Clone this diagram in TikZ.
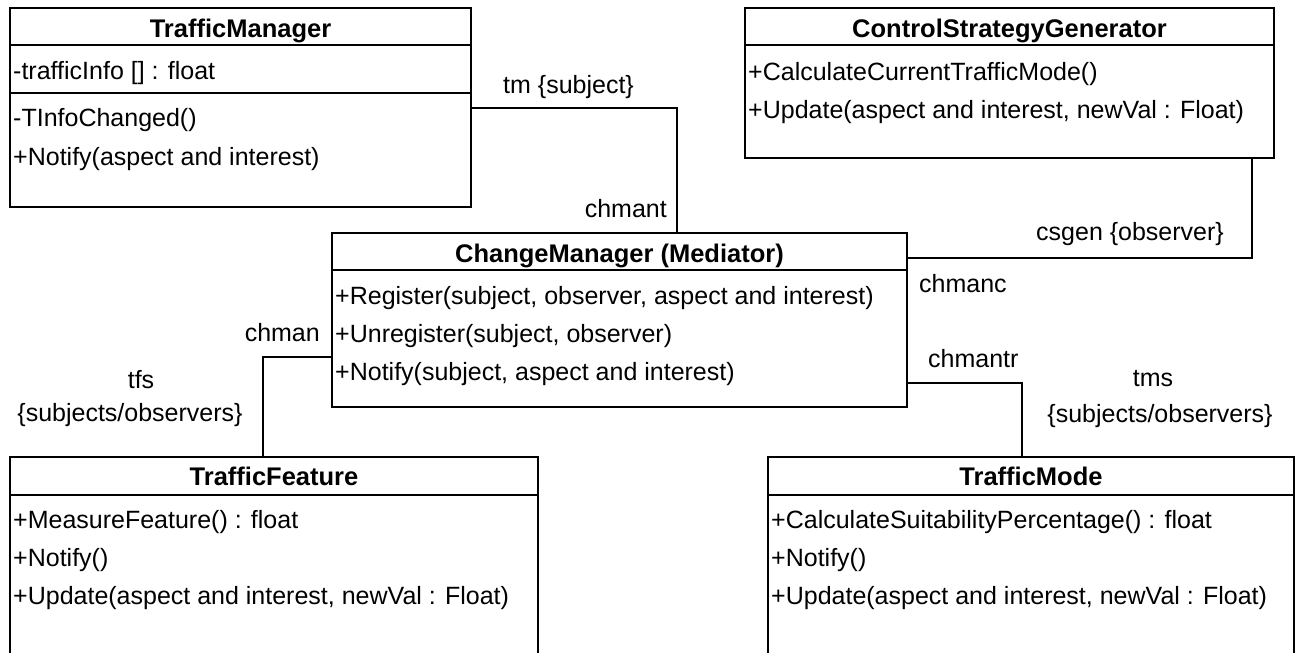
\documentclass[tikz,border=0pt]{standalone}
\usepackage{fontspec}
\setmainfont{Liberation Sans}
\usepackage{tikz}
\tikzset{>=latex}
\tikzstyle{umlbox}=[draw=black,line width=1.8pt,rectangle,outer sep=0pt,inner sep=0pt,anchor=north west]
\tikzstyle{classname}=[inner sep=0pt,anchor=base,font=\fontsize{25.5}{30}\selectfont\bfseries]
\tikzstyle{member}=[inner sep=0pt,anchor=base west,font=\fontsize{25}{30}\selectfont]
\tikzstyle{role}=[inner sep=0pt,font=\fontsize{25}{30}\selectfont]
\tikzstyle{link}=[line width=1.8pt]

\begin{document}
\begin{tikzpicture}[x=1pt,y=-1pt]
		\useasboundingbox (0,0) rectangle (1296,653);
		\clip (0,0) rectangle (1296,653);
		
		\node[umlbox, minimum width=461pt, minimum height=199pt] (tm) at (10,8) {};
		\draw[link] (tm.west |- 0,45) -- (tm.east |- 0,45);
		\draw[link] (tm.west |- 0,93) -- (tm.east |- 0,93);
		\node[classname] (tm-name) at (240.5,37) {TrafficManager};
		\node[member] (tm-a1) at (13,79) {-trafficInfo [] : float};
		\node[member] (tm-m1) at (13,126) {-TInfoChanged()};
		\node[member] (tm-m2) at (13,165) {+Notify(aspect and interest)};
		
		\node[umlbox, minimum width=529pt, minimum height=150pt] (csg) at (745,8) {};
		\draw[link] (csg.west |- 0,45) -- (csg.east |- 0,45);
		\node[classname] (csg-name) at (1009.5,37) {ControlStrategyGenerator};
		\node[member] (csg-m1) at (748,80) {+CalculateCurrentTrafficMode()};
		\node[member] (csg-m2) at (748,118) {+Update(aspect and interest, newVal : Float)};
		
		\node[umlbox, minimum width=575pt, minimum height=174pt] (cm) at (332,233) {};
		\draw[link] (cm.west |- 0,270) -- (cm.east |- 0,270);
		\node[classname] (cm-name) at (619.5,262) {ChangeManager (Mediator)};
		\node[member] (cm-m1) at (335,304) {+Register(subject, observer, aspect and interest)};
		\node[member] (cm-m2) at (335,342) {+Unregister(subject, observer)};
		\node[member] (cm-m3) at (335,380) {+Notify(subject, aspect and interest)};
		
		\node[umlbox, minimum width=528pt, minimum height=230pt] (tf) at (10,457) {};
		\draw[link] (tf.west |- 0,495) -- (tf.east |- 0,495);
		\node[classname] (tf-name) at (274,485) {TrafficFeature};
		\node[member] (tf-m1) at (13,528) {+MeasureFeature() : float};
		\node[member] (tf-m2) at (13,566) {+Notify()};
		\node[member] (tf-m3) at (13,604) {+Update(aspect and interest, newVal : Float)};
		
		\node[umlbox, minimum width=526pt, minimum height=230pt] (tmode) at (768,457) {};
		\draw[link] (tmode.west |- 0,495) -- (tmode.east |- 0,495);
		\node[classname] (tmode-name) at (1031,485) {TrafficMode};
		\node[member] (tmode-m1) at (771,528) {+CalculateSuitabilityPercentage() : float};
		\node[member] (tmode-m2) at (771,566) {+Notify()};
		\node[member] (tmode-m3) at (771,604) {+Update(aspect and interest, newVal : Float)};
		
		\draw[link] (tm.east |- 0,108) -| (cm.north -| 677,0);
		\draw[link] (csg.south -| 1252,0) |- (cm.east |- 0,258);
		\draw[link] (cm.west |- 0,357) -| (tf.north -| 263,0);
		\draw[link] (cm.east |- 0,383) -| (tmode.north -| 1022,0);
		
		\node[role, anchor=base west] (tm-role) at (503,93) {tm \{subject\}};
		\node[role, anchor=base east] (chmant) at (667,217) {chmant};
		\node[role, anchor=base west] (csg-role) at (1036,240) {csgen \{observer\}};
		\node[role, anchor=base west] (chmanc) at (919,292) {chmanc};
		\node[role, anchor=base east] (chman) at (320,341) {chman};
		\node[role, anchor=base west] (chmantr) at (928,367) {chmantr};
		\node[role, anchor=base] (tfs) at (141,388) {tfs};
		\node[role, anchor=base] (tfs-kind) at (130,421) {\{subjects/observers\}};
		\node[role, anchor=base] (tms) at (1153,386) {tms};
		\node[role, anchor=base] (tms-kind) at (1160,422) {\{subjects/observers\}};
\end{tikzpicture}
\end{document}
